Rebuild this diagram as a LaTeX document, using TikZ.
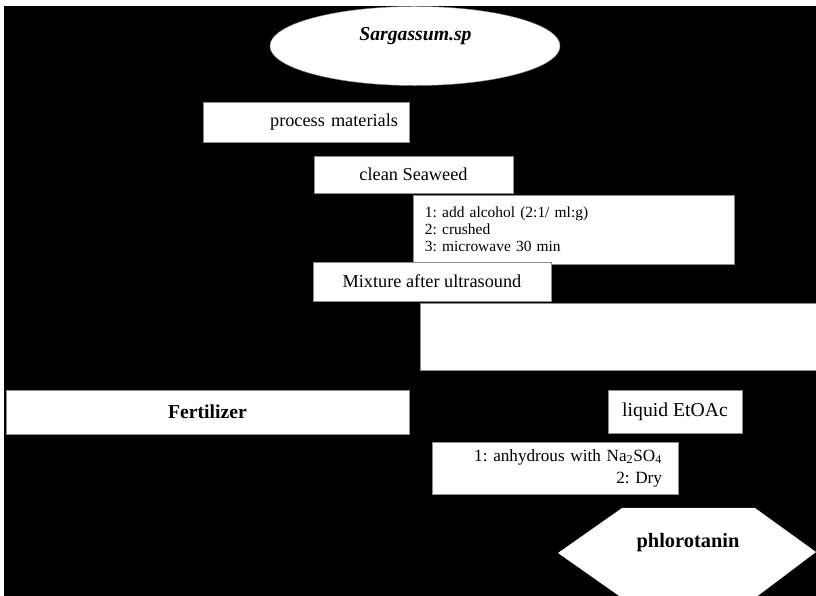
\documentclass[tikz,border=0pt]{standalone}
\usepackage{fontspec}
\setmainfont{Liberation Serif}
\usetikzlibrary{shapes.geometric}
\colorlet{myedge}{black!45}
\frenchspacing

\begin{document}
\begin{tikzpicture}[x=0.025cm, y=-0.025cm,
    box/.style={draw=myedge, line width=0.3pt, fill=white, inner sep=0pt},
    txt/.style={font=\fontsize{13}{15}\selectfont}]
                \clip (0, 0) rectangle (816, 596);
                \fill[white] (0, 0) rectangle (816, 596);
                \fill[black] (4, 6) rectangle (816, 596);
                % source
                \node[ellipse, fill=white, draw=myedge, line width=0.3pt, minimum width=7.25cm,
                    minimum height=1.975cm, inner sep=0pt] (sargassum) at (415, 46) {};
                \node[font=\fontsize{14}{16}\selectfont\bfseries\itshape] (sargtext) at (415.5, 36) {Sargassum.sp};
                % processing column
                \node[box, txt, minimum height=1.0cm, text width=4.6cm, inner xsep=0.275cm, align=right]
                    (materials) at (306, 122) {process materials};
                \node[box, txt, minimum width=4.975cm, minimum height=0.925cm] (clean) at (413.5, 174.5) {clean Seaweed};
                \node[box, font=\fontsize{11}{12.1}\selectfont, minimum height=1.725cm, text width=7.425cm,
                    inner xsep=0.3cm, align=left] (steps) at (573.5, 229.5)
                    {1: add alcohol (2:1/ ml:g)\\2: crushed\\3: microwave 30 min};
                \node[box, txt, minimum width=5.95cm, minimum height=0.975cm] (mixture) at (432, 281.5) {Mixture after ultrasound};
                \node[box, minimum width=9.9cm, minimum height=1.675cm] (blank) at (618, 336.5) {};
                % outputs
                \node[box, font=\fontsize{14}{16}\selectfont\bfseries, minimum width=10.075cm, minimum height=1.1cm]
                    (fertilizer) at (207.5, 412) {Fertilizer};
                \node[box, font=\fontsize{14}{16}\selectfont, minimum width=3.35cm, minimum height=1.075cm]
                    (etoac) at (675, 411.5) {liquid EtOAc};
                \node[box, font=\fontsize{12.2}{15.6}\selectfont, minimum height=1.3cm, text width=5.35cm,
                    inner xsep=0.4cm, align=right] (drying) at (555, 468)
                    {1: anhydrous with Na\textsubscript{2}SO\textsubscript{4}\\2: Dry};
                % product
                \fill[white] (558, 553) -- (622, 508) -- (755, 508) -- (816, 552) -- (755, 598) -- (622, 598) -- cycle;
                \node[font=\fontsize{14.5}{17}\selectfont\bfseries] (product) at (688, 543) {phlorotanin};
            \end{tikzpicture}
\end{document}
